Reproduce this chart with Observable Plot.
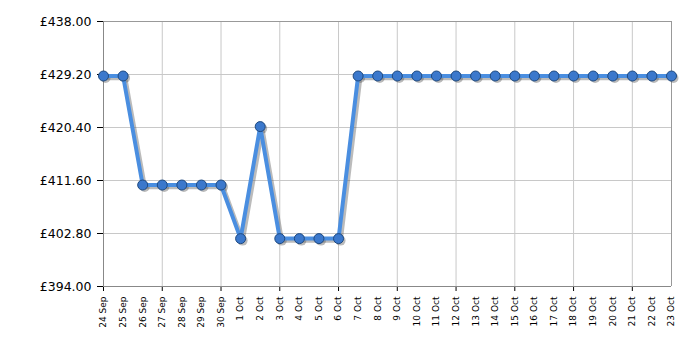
<!DOCTYPE html>
<html><head><meta charset="utf-8">
<script src="https://cdn.jsdelivr.net/npm/d3@7"></script>
<script src="https://cdn.jsdelivr.net/npm/@observablehq/plot@0.6"></script>
<style>body{margin:0;background:#fff;} svg{font-family:"DejaVu Sans",Verdana,sans-serif;}</style>
</head><body><div id="chart"></div>
<script>
const dates = ["24 Sep","25 Sep","26 Sep","27 Sep","28 Sep","29 Sep","30 Sep","1 Oct","2 Oct","3 Oct","4 Oct","5 Oct","6 Oct","7 Oct","8 Oct","9 Oct","10 Oct","11 Oct","12 Oct","13 Oct","14 Oct","15 Oct","16 Oct","17 Oct","18 Oct","19 Oct","20 Oct","21 Oct","22 Oct","23 Oct"];
const prices = [428.95,428.95,410.85,410.85,410.85,410.85,410.85,401.95,420.55,401.95,401.95,401.95,401.95,428.95,428.95,428.95,428.95,428.95,428.95,428.95,428.95,428.95,428.95,428.95,428.95,428.95,428.95,428.95,428.95,428.95];
const yTicks = [394, 402.8, 411.6, 420.4, 429.2, 438];
const gridDates = ["24 Sep","27 Sep","30 Sep","3 Oct","6 Oct","9 Oct","12 Oct","15 Oct","18 Oct","21 Oct"];
const data = dates.map((d, i) => ({i, date: d, price: prices[i]}));
const allIdx = dates.map((d, i) => i);
const gridIdx = gridDates.map(d => dates.indexOf(d));

const chart = Plot.plot({
  width: 700, height: 350,
  marginLeft: 103, marginRight: 29, marginTop: 21, marginBottom: 64,
  x: {type: "linear", domain: [0, dates.length - 1]},
  y: {domain: [394, 438]},
  marks: [
    Plot.gridY(yTicks, {stroke: "#c8c8c8", strokeOpacity: 1}),
    Plot.gridX(gridIdx, {stroke: "#c8c8c8", strokeOpacity: 1}),
    Plot.ruleY([438], {stroke: "#999"}),
    Plot.ruleX([dates.length - 1], {stroke: "#999"}),
    Plot.axisY({ticks: yTicks, tickFormat: d => "£" + d.toFixed(2), tickSize: 6, tickPadding: 6, fontSize: 12.5, fill: "#000", stroke: "#000", label: null}),
    Plot.axisX({ticks: gridIdx, tickSize: 5, text: null, stroke: "#000", label: null}),
    Plot.axisX({ticks: allIdx, tickFormat: i => dates[i], tickSize: 0, tickRotate: -90, tickPadding: 10, fontSize: 9, fill: "#000", label: null}),
    Plot.ruleX([0], {stroke: "#888"}),
    Plot.ruleY([394], {stroke: "#888"}),
    Plot.line(data, {x: "i", y: "price", stroke: "#555", strokeOpacity: 0.4, strokeWidth: 4.5, dx: 2, dy: 2}),
    Plot.dot(data, {x: "i", y: "price", r: 5, fill: "#555", fillOpacity: 0.4, dx: 2, dy: 2}),
    Plot.line(data, {x: "i", y: "price", stroke: "#4a8ee0", strokeWidth: 4}),
    Plot.dot(data, {x: "i", y: "price", r: 5, fill: "#3b78cc", stroke: "#1f4a80", strokeWidth: 1})
  ]
});
document.getElementById("chart").appendChild(chart);
</script></body></html>
